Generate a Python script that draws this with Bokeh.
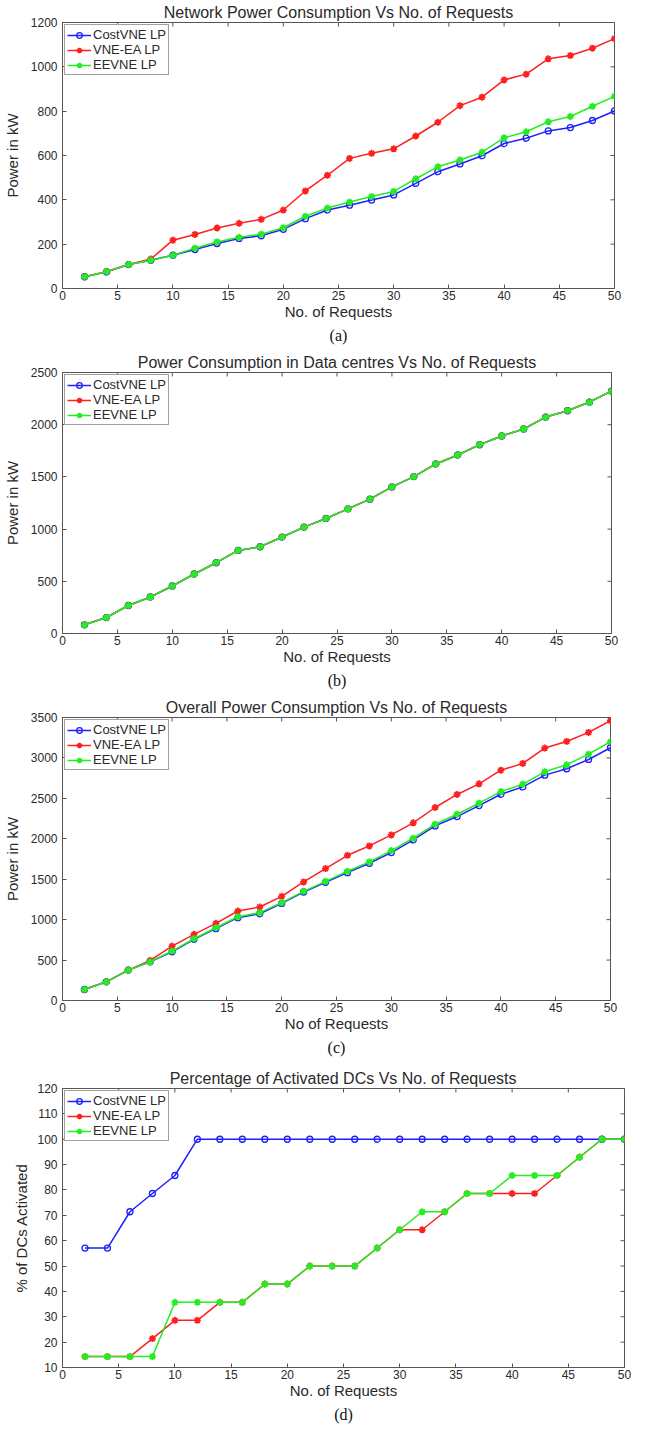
import math
from bokeh.plotting import figure
from bokeh.models import Range1d, FixedTicker, Title
from bokeh.layouts import column
from bokeh.embed import file_html
from bokeh.resources import INLINE

# ---------------- data ----------------
requests = [2, 4, 6, 8, 10, 12, 14, 16, 18, 20, 22, 24, 26, 28, 30,
            32, 34, 36, 38, 40, 42, 44, 46, 48, 50]
x_ticks = [0, 5, 10, 15, 20, 25, 30, 35, 40, 45, 50]

series_names = ["CostVNE LP", "VNE-EA LP", "EEVNE LP"]

# (a) Network power consumption (kW)
net_costvne = [53, 75, 108, 127, 150, 176, 203, 226, 238, 267, 315, 354, 376,
               399, 422, 474, 527, 562, 599, 654, 678, 711, 726, 758, 801]
net_vneea = [53, 77, 108, 133, 218, 244, 273, 294, 312, 354, 440, 511, 587,
             610, 630, 688, 750, 825, 863, 941, 967, 1036, 1051, 1084, 1127]
net_eevne = [53, 76, 108, 127, 150, 182, 210, 231, 245, 274, 326, 363, 390,
             415, 438, 495, 549, 580, 615, 680, 707, 752, 776, 822, 867]
net_yticks = [0, 200, 400, 600, 800, 1000, 1200]

# (b) Power consumption in data centres (kW)
dc_costvne = [83, 153, 268, 350, 455, 570, 678, 796, 831, 924, 1019, 1102, 1194,
              1287, 1404, 1503, 1624, 1710, 1809, 1892, 1959, 2073, 2134, 2217, 2322]
dc_vneea = [83, 153, 268, 350, 455, 570, 678, 796, 831, 924, 1019, 1102, 1194,
            1287, 1404, 1503, 1624, 1710, 1809, 1892, 1959, 2073, 2134, 2217, 2322]
dc_eevne = [83, 153, 268, 350, 455, 570, 678, 796, 831, 924, 1019, 1102, 1194,
            1287, 1404, 1503, 1624, 1710, 1809, 1892, 1959, 2073, 2134, 2217, 2322]
dc_yticks = [0, 500, 1000, 1500, 2000, 2500]

# (c) Overall power consumption (kW)
all_costvne = [136, 231, 376, 479, 603, 756, 888, 1024, 1073, 1201, 1342, 1462, 1581,
               1697, 1829, 1986, 2159, 2275, 2411, 2551, 2642, 2787, 2866, 2981, 3126]
all_vneea = [136, 231, 376, 495, 673, 818, 954, 1107, 1156, 1288, 1466, 1631, 1796,
             1912, 2048, 2197, 2387, 2548, 2680, 2849, 2932, 3122, 3204, 3316, 3460]
all_eevne = [136, 231, 376, 479, 611, 764, 900, 1036, 1086, 1210, 1350, 1474, 1598,
             1714, 1854, 2007, 2180, 2304, 2440, 2584, 2675, 2828, 2915, 3047, 3200]
all_yticks = [0, 500, 1000, 1500, 2000, 2500, 3000, 3500]

# (d) Percentage of activated DCs
act_costvne = [57.1, 57.1, 71.4, 78.6, 85.7, 100, 100, 100, 100, 100, 100, 100, 100,
               100, 100, 100, 100, 100, 100, 100, 100, 100, 100, 100, 100]
act_vneea = [14.3, 14.3, 14.3, 21.4, 28.6, 28.6, 35.7, 35.7, 42.9, 42.9, 50, 50, 50,
             57.1, 64.3, 64.3, 71.4, 78.6, 78.6, 78.6, 78.6, 85.7, 92.9, 100, 100]
act_eevne = [14.3, 14.3, 14.3, 14.3, 35.7, 35.7, 35.7, 35.7, 42.9, 42.9, 50, 50, 50,
             57.1, 64.3, 71.4, 71.4, 78.6, 78.6, 85.7, 85.7, 85.7, 92.9, 100, 100]
act_yticks = [10, 20, 30, 40, 50, 60, 70, 80, 90, 100, 110, 120]

# ---------------- styling ----------------
COLORS = ["#1f1fff", "#ff1f1f", "#22ee22"]
MARKERS = ["circle", "asterisk", "asterisk"]
SANS = "Liberation Sans"
TXT = "#2a2a2a"
AX = "#555555"
X_RANGE = (0, 50)


def style_axis(ax, ticks):
    ax.ticker = FixedTicker(ticks=ticks)
    ax.major_tick_in = 4
    ax.major_tick_out = 0
    ax.minor_tick_line_color = None
    ax.axis_line_color = AX
    ax.major_tick_line_color = AX
    ax.major_label_text_font = SANS
    ax.major_label_text_font_size = "12px"
    ax.major_label_text_color = TXT
    ax.axis_label_text_font = SANS
    ax.axis_label_text_font_size = "15px"
    ax.axis_label_text_font_style = "normal"
    ax.axis_label_text_color = TXT


def panel(title, caption, xlabel, ylabel, values, yr, yticks,
          fw, fh, bl, bt, bb, br, ylab_standoff):
    p = figure(frame_width=fw, frame_height=fh,
               min_border_left=bl, min_border_top=bt,
               min_border_bottom=bb, min_border_right=br,
               x_range=Range1d(*X_RANGE), y_range=Range1d(yr[0], yr[1]),
               output_backend="svg", toolbar_location=None, title=title)
    p.title.align = "center"
    p.title.text_font = SANS
    p.title.text_font_size = "16px"
    p.title.text_font_style = "normal"
    p.title.text_color = TXT
    p.title.standoff = 3
    p.xgrid.visible = False
    p.ygrid.visible = False
    p.outline_line_color = AX
    p.outline_line_alpha = 1
    p.background_fill_color = "white"
    p.border_fill_color = "white"

    style_axis(p.xaxis[0], x_ticks)
    style_axis(p.yaxis[0], yticks)
    p.xaxis.axis_label = xlabel
    p.yaxis.axis_label = ylabel
    p.xaxis.major_label_standoff = 2
    p.xaxis.axis_label_standoff = 0
    p.yaxis.major_label_standoff = 5
    p.yaxis.axis_label_standoff = ylab_standoff

    # inward tick marks on the top and right edges (clipped to the frame)
    p.scatter(x_ticks, [yr[1]] * len(x_ticks), marker="dash", angle=math.pi / 2,
              size=8, line_color=AX, line_width=1)
    p.scatter([X_RANGE[1]] * len(yticks), yticks, marker="dash",
              size=8, line_color=AX, line_width=1)

    for name, vals, col, mk in zip(series_names, values, COLORS, MARKERS):
        p.line(requests, vals, line_color=col, line_width=1.5, legend_label=name)
        if mk == "circle":
            p.scatter(requests, vals, marker="circle", size=6, line_color=col,
                      line_width=1.3, fill_color=None, legend_label=name)
        else:
            p.scatter(requests, vals, marker="asterisk", size=7, line_color=col,
                      line_width=1.8, legend_label=name)

    lg = p.legend[0]
    lg.location = "top_left"
    lg.margin = 2
    lg.padding = 2
    lg.spacing = 0
    lg.label_text_font = SANS
    lg.label_text_font_size = "13px"
    lg.label_text_color = TXT
    lg.glyph_width = 24
    lg.glyph_height = 14
    lg.label_height = 14
    lg.label_standoff = 2
    lg.border_line_color = "#444444"
    lg.border_line_width = 1
    lg.background_fill_color = "white"
    lg.background_fill_alpha = 1

    cap = Title(text=caption, align="center", text_font="Liberation Serif",
                text_font_size="16px", text_font_style="normal",
                text_color="#111111", standoff=5)
    p.add_layout(cap, "below")
    return p


pa = panel("Network Power Consumption Vs No. of Requests", "(a)",
           "No. of Requests", "Power in kW",
           [net_costvne, net_vneea, net_eevne], (0, 1200), net_yticks,
           552, 266, 59, 16, 55, 20, 7)
pb = panel("Power Consumption in Data centres Vs No. of Requests", "(b)",
           "No. of Requests", "Power in kW",
           [dc_costvne, dc_vneea, dc_eevne], (0, 2500), dc_yticks,
           549, 261, 60, 26, 55, 22, 7)
pc = panel("Overall Power Consumption Vs No. of Requests", "(c)",
           "No of Requests", "Power in kW",
           [all_costvne, all_vneea, all_eevne], (0, 3500), all_yticks,
           548, 283, 60, 26, 56, 23, 7)
pd_ = panel("Percentage of Activated DCs Vs No. of Requests", "(d)",
            "No. of Requests", "% of DCs Activated",
            [act_costvne, act_vneea, act_eevne], (10, 120), act_yticks,
            562, 279, 50, 30, 58, 19, 4)

layout = column(pa, pb, pc, pd_, spacing=0)
open("out.html", "w").write(file_html(layout, INLINE))
